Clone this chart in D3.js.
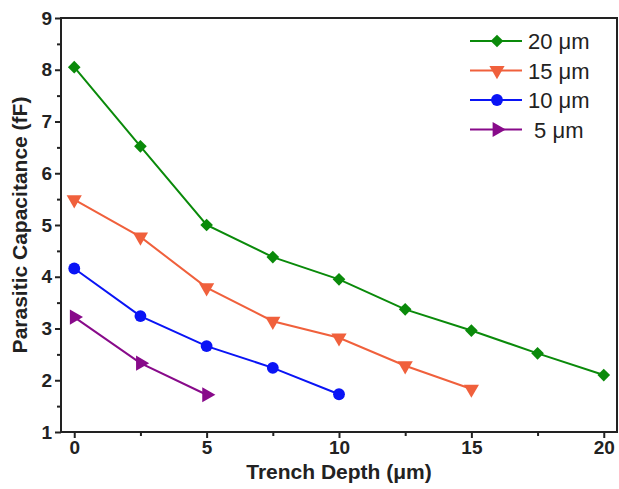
<!DOCTYPE html>
<html><head><meta charset="utf-8">
<script src="https://cdn.jsdelivr.net/npm/d3@7"></script>
<style>body{margin:0;background:#fff}svg{display:block}</style>
</head><body>
<script>
const depths20 = [0, 2.5, 5, 7.5, 10, 12.5, 15, 17.5, 20];
const cap20 = [8.05, 6.52, 5.0, 4.38, 3.95, 3.37, 2.96, 2.52, 2.1];
const depths15 = [0, 2.5, 5, 7.5, 10, 12.5, 15];
const cap15 = [5.49, 4.77, 3.79, 3.14, 2.82, 2.28, 1.83];
const depths10 = [0, 2.5, 5, 7.5, 10];
const cap10 = [4.16, 3.24, 2.66, 2.24, 1.73];
const depths5 = [0, 2.5, 5];
const cap5 = [3.22, 2.33, 1.72];
const seriesNames = ["20 \u03bcm", "15 \u03bcm", "10 \u03bcm", " 5 \u03bcm"];
const xTicks = [0, 5, 10, 15, 20];
const yTicks = [1, 2, 3, 4, 5, 6, 7, 8, 9];

const W = 619, H = 489;
const m = {l: 61, t: 18, r: 2, b: 57};
const svg = d3.select("body").append("svg").attr("width", W).attr("height", H);
const x = d3.scaleLinear().domain([-0.5, 20.5]).range([m.l, W - m.r]);
const y = d3.scaleLinear().domain([1, 9]).range([H - m.b, m.t]);

const series = [
  {name: seriesNames[0], xs: depths20, ys: cap20, color: "#0a8a0a", sym: d3.symbolSquare, rot: 45, size: 80},
  {name: seriesNames[1], xs: depths15, ys: cap15, color: "#f0603c", sym: d3.symbolTriangle, rot: 180, size: 100},
  {name: seriesNames[2], xs: depths10, ys: cap10, color: "#0a14f5", sym: d3.symbolCircle, rot: 0, size: 110},
  {name: seriesNames[3], xs: depths5, ys: cap5, color: "#880a8a", sym: d3.symbolTriangle, rot: 90, size: 100}
];

const font = "Arial, 'Liberation Sans', sans-serif";
const xAxis = d3.axisBottom(x).tickValues(xTicks).tickSize(6).tickPadding(3).tickFormat(d3.format("d"));
const xMinor = d3.axisBottom(x).tickValues([2.5, 7.5, 12.5, 17.5]).tickSize(4).tickFormat("");
const yAxis = d3.axisLeft(y).tickValues(yTicks).tickSize(6).tickPadding(3).tickFormat(d3.format("d"));
const yMinor = d3.axisLeft(y).tickValues([1.5,2.5,3.5,4.5,5.5,6.5,7.5,8.5]).tickSize(4).tickFormat("");

function styleAxis(g){
  g.select(".domain").remove();
  g.selectAll("line").attr("stroke", "#222").attr("stroke-width", 2);
  g.selectAll("text").attr("font-family", font).attr("font-weight", "bold").attr("font-size", 19).attr("fill", "#222");
}
svg.append("g").attr("transform", `translate(0,${H - m.b})`).call(xAxis).call(styleAxis);
svg.append("g").attr("transform", `translate(0,${H - m.b})`).call(xMinor).call(styleAxis);
svg.append("g").attr("transform", `translate(${m.l},0)`).call(yAxis).call(styleAxis);
svg.append("g").attr("transform", `translate(${m.l},0)`).call(yMinor).call(styleAxis);

svg.append("rect").attr("x", m.l).attr("y", m.t).attr("width", W - m.r - m.l).attr("height", H - m.b - m.t)
  .attr("fill", "none").attr("stroke", "#222").attr("stroke-width", 2);

svg.append("text").attr("x", x(10)).attr("y", 479).attr("text-anchor", "middle")
  .attr("font-family", font).attr("font-weight", "bold").attr("font-size", 21).attr("fill", "#222")
  .text("Trench Depth (\u03bcm)");
svg.append("text").attr("transform", `translate(27,${(m.t + H - m.b)/2}) rotate(-90)`).attr("text-anchor", "middle")
  .attr("font-family", font).attr("font-weight", "bold").attr("font-size", 21).attr("fill", "#222")
  .text("Parasitic Capacitance (fF)");

const line = d3.line().x(d => x(d[0])).y(d => y(d[1]));
series.forEach(s => {
  const pts = s.xs.map((v, i) => [v, s.ys[i]]);
  svg.append("path").datum(pts).attr("d", line).attr("fill", "none").attr("stroke", s.color).attr("stroke-width", 2);
  svg.selectAll(null).data(pts).enter().append("path")
    .attr("d", d3.symbol().type(s.sym).size(s.size))
    .attr("transform", d => `translate(${x(d[0])},${y(d[1])}) rotate(${s.rot})`)
    .attr("fill", s.color);
});

series.forEach((s, i) => {
  const ly = 41 + i * 29.5;
  const g = svg.append("g");
  g.append("line").attr("x1", 470).attr("x2", 522).attr("y1", ly).attr("y2", ly).attr("stroke", s.color).attr("stroke-width", 2);
  g.append("path").attr("d", d3.symbol().type(s.sym).size(s.size))
    .attr("transform", `translate(497,${ly}) rotate(${s.rot})`).attr("fill", s.color);
  g.append("text").attr("x", 528).attr("y", ly + 8).attr("font-family", font).attr("font-size", 22).attr("fill", "#222")
    .attr("xml:space", "preserve").style("white-space", "pre").text(s.name);
});
</script>
</body></html>
